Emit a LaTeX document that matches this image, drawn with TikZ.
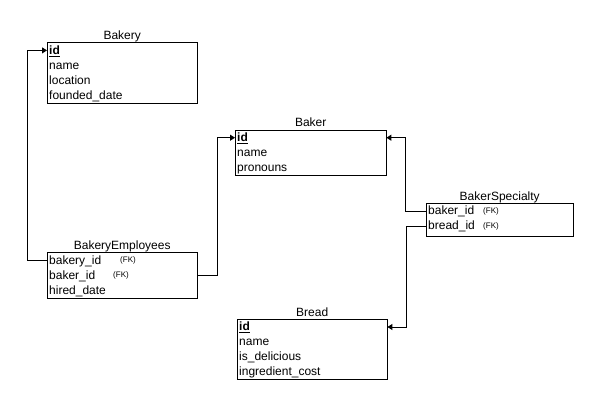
\documentclass[tikz,border=0pt]{standalone}
\usepackage{fontspec}
\setmainfont{Liberation Sans}
\usetikzlibrary{fit,arrows.meta,calc}
\begin{document}
\begin{tikzpicture}[x=1pt,y=-1pt,
  row/.style={anchor=north west, inner xsep=2pt, inner ysep=0pt, minimum height=15pt,
    text height=9.4pt, text depth=1.6pt, align=left, font=\fontsize{12}{14}\selectfont},
  tbox/.style={draw=black, line width=0.9pt, inner sep=0pt},
  ttl/.style={anchor=base, inner sep=0pt, font=\fontsize{12}{14}\selectfont},
  fklbl/.style={anchor=west, inner sep=0pt, font=\fontsize{8}{9}\selectfont},
  fk/.style={draw=black, line width=0.9pt, -{Triangle[length=5pt,width=6pt]}}
]
\useasboundingbox[fill=white] (0,0) rectangle (602,405);

% Bakery
\node[row, text width=146pt] (bk1) at (47,42.7) {\textbf{\underline{id}}};
\node[row, text width=146pt] (bk2) at (47,57.7) {name};
\node[row, text width=146pt] (bk3) at (47,72.7) {location};
\node[row, text width=146pt] (bk4) at (47,87.7) {founded\_date};
\node[tbox, fit=(bk1)(bk4)] (bakery) {};
\node[ttl] (bakeryt) at ([yshift=2.8pt]bakery.north) {Bakery};

% Baker
\node[row, text width=147pt] (bkr1) at (235,130) {\textbf{\underline{id}}};
\node[row, text width=147pt] (bkr2) at (235,145) {name};
\node[row, text width=147pt] (bkr3) at (235,160) {pronouns};
\node[tbox, fit=(bkr1)(bkr3)] (baker) {};
\node[ttl] (bakert) at ([yshift=2.8pt]baker.north) {Baker};

% BakeryEmployees
\node[row, text width=146pt] (be1) at (47,252.7) {bakery\_id};
\node[row, text width=146pt] (be2) at (47,267.7) {baker\_id};
\node[row, text width=146pt] (be3) at (47,282.7) {hired\_date};
\node[tbox, fit=(be1)(be3)] (bakeryemp) {};
\node[ttl] (bakeryempt) at ([yshift=2.8pt]bakeryemp.north) {BakeryEmployees};
\node[fklbl] (fk1) at ([xshift=73pt]be1.west) {(FK)};
\node[fklbl] (fk2) at ([xshift=66pt]be2.west) {(FK)};

% BakerSpecialty
\node[row, text width=143pt] (bs1) at (426,203.3) {baker\_id};
\node[row, text width=143pt] (bs2) at (426,218.3) {bread\_id};
\coordinate (bsb) at (426,236);
\node[tbox, fit=(bs1)(bs2)(bsb)] (bakerspec) {};
\node[ttl] (bakerspect) at ([yshift=2.8pt]bakerspec.north) {BakerSpecialty};
\node[fklbl] (fk3) at ([xshift=57pt]bs1.west) {(FK)};
\node[fklbl] (fk4) at ([xshift=57pt]bs2.west) {(FK)};

% Bread
\node[row, text width=146pt] (br1) at (237,319.3) {\textbf{\underline{id}}};
\node[row, text width=146pt] (br2) at (237,334.3) {name};
\node[row, text width=146pt] (br3) at (237,349.3) {is\_delicious};
\node[row, text width=146pt] (br4) at (237,364.3) {ingredient\_cost};
\node[tbox, fit=(br1)(br4)] (bread) {};
\node[ttl] (breadt) at ([yshift=2.8pt]bread.north) {Bread};

% connectors
\draw[fk] (be1.west) -- ++(-20,0) |- (bk1.west);
\draw[fk] (be2.east) -- ++(20,0) |- (bkr1.west);
\draw[fk] (bs1.west) -- ++(-21,0) |- (bkr1.east);
\draw[fk] (bs2.west) -- ++(-20,0) |- (br1.east);
\end{tikzpicture}
\end{document}
